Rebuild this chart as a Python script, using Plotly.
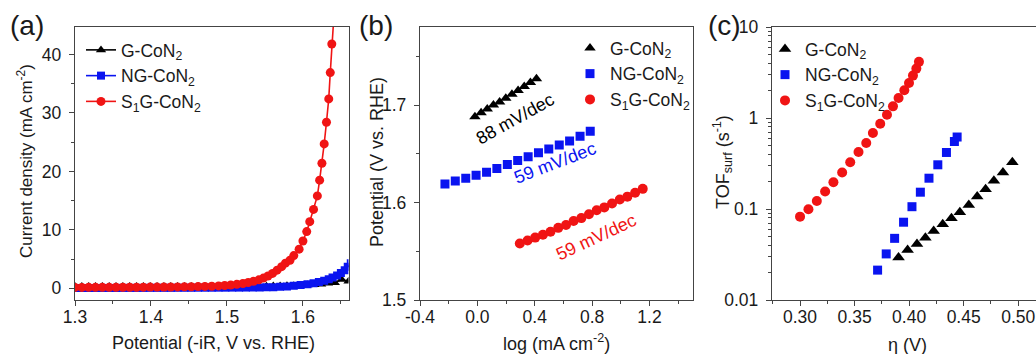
import plotly.graph_objects as go

# ---------------- Panel (a): LSV curves ----------------
a_g_v = [1.300, 1.309, 1.318, 1.327, 1.336, 1.345, 1.354, 1.363, 1.372, 1.381,
         1.390, 1.399, 1.408, 1.417, 1.426, 1.435, 1.444, 1.453, 1.462, 1.471,
         1.480, 1.489, 1.498, 1.507, 1.516, 1.525, 1.534, 1.543, 1.552, 1.561,
         1.570, 1.579, 1.588, 1.597, 1.606, 1.615, 1.624, 1.633, 1.642, 1.651, 1.660]
a_g_j = [0.30, 0.31, 0.30, 0.32, 0.31, 0.30, 0.32, 0.31, 0.30, 0.31,
         0.32, 0.30, 0.31, 0.32, 0.31, 0.30, 0.32, 0.31, 0.32, 0.33,
         0.32, 0.33, 0.34, 0.33, 0.35, 0.34, 0.36, 0.35, 0.37, 0.38,
         0.40, 0.42, 0.45, 0.50, 0.55, 0.62, 0.70, 0.85, 0.95, 1.50, 1.20]

a_ng_v = [1.300, 1.309, 1.318, 1.327, 1.336, 1.345, 1.354, 1.363, 1.372, 1.381,
          1.390, 1.399, 1.408, 1.417, 1.426, 1.435, 1.444, 1.453, 1.462, 1.471,
          1.480, 1.489, 1.498, 1.507, 1.516, 1.525, 1.534, 1.543,
          1.552, 1.561, 1.570, 1.579, 1.588, 1.597, 1.606, 1.614, 1.621, 1.628,
          1.634, 1.639, 1.645, 1.650, 1.655, 1.659, 1.663]
a_ng_j = [0.05, 0.05, 0.05, 0.06, 0.06, 0.06, 0.06, 0.07, 0.07, 0.07,
          0.07, 0.08, 0.08, 0.08, 0.08, 0.09, 0.09, 0.09, 0.10, 0.10,
          0.10, 0.11, 0.11, 0.12, 0.12, 0.13, 0.14, 0.15,
          0.17, 0.20, 0.25, 0.32, 0.42, 0.55, 0.70, 0.88, 1.08, 1.30,
          1.55, 1.85, 2.20, 2.60, 3.10, 3.70, 4.30]

a_s1g_v = [1.300, 1.309, 1.318, 1.327, 1.336, 1.345, 1.354, 1.363, 1.372, 1.381,
           1.390, 1.399, 1.408, 1.417, 1.426, 1.435, 1.444, 1.453, 1.462, 1.471,
           1.480, 1.489, 1.497, 1.505, 1.513, 1.521, 1.528, 1.535, 1.542, 1.548,
           1.554, 1.560, 1.566, 1.572, 1.577, 1.583, 1.588, 1.595, 1.600, 1.605,
           1.609, 1.614, 1.619, 1.622, 1.625, 1.628, 1.631, 1.634, 1.636, 1.638, 1.641]
a_s1g_j = [0.15, 0.15, 0.16, 0.16, 0.17, 0.17, 0.18, 0.18, 0.19, 0.19,
           0.20, 0.21, 0.21, 0.22, 0.23, 0.24, 0.25, 0.27, 0.29, 0.32,
           0.36, 0.41, 0.48, 0.57, 0.68, 0.82, 1.00, 1.20, 1.45, 1.75,
           2.10, 2.55, 3.10, 3.70, 4.30, 4.80, 5.60, 6.70, 8.10, 9.70,
           11.4, 13.5, 15.8, 18.5, 21.4, 24.7, 28.4, 32.4, 36.9, 41.8, 47.0]

# ---------------- Panel (b): Tafel plots ----------------
b_g_x = [-0.017, 0.026, 0.069, 0.112, 0.155, 0.198, 0.241, 0.284, 0.327, 0.370, 0.412]
b_g_y = [1.688, 1.692, 1.696, 1.700, 1.703, 1.707, 1.711, 1.715, 1.719, 1.723, 1.727]

b_ng_x = [-0.226, -0.154, -0.081, -0.009, 0.064, 0.136, 0.209, 0.281, 0.354,
          0.426, 0.498, 0.571, 0.643, 0.716, 0.787]
b_ng_y = [1.619, 1.622, 1.625, 1.628, 1.631, 1.635, 1.639, 1.643, 1.647,
          1.651, 1.655, 1.659, 1.663, 1.668, 1.673]

b_s1g_x = [0.296, 0.350, 0.403, 0.457, 0.510, 0.564, 0.618, 0.671, 0.725,
           0.778, 0.832, 0.885, 0.939, 0.993, 1.046, 1.100, 1.153]
b_s1g_y = [1.558, 1.561, 1.564, 1.567, 1.570, 1.574, 1.577, 1.581, 1.584,
           1.588, 1.592, 1.595, 1.599, 1.603, 1.606, 1.610, 1.614]

# ---------------- Panel (c): TOF ----------------
c_g_eta = [0.3903, 0.3986, 0.4072, 0.4149, 0.4225, 0.4308, 0.4388, 0.4465,
           0.4547, 0.4624, 0.4701, 0.4777, 0.4860, 0.4946]
c_g_tof = [0.0294, 0.0355, 0.0413, 0.0484, 0.0574, 0.0681, 0.0793, 0.0923,
           0.111, 0.137, 0.165, 0.204, 0.252, 0.327]

c_ng_eta = [0.3711, 0.3790, 0.3867, 0.3949, 0.4026, 0.4103, 0.4182, 0.4263,
            0.4342, 0.4415, 0.4440]
c_ng_tof = [0.0213, 0.0321, 0.0476, 0.0716, 0.106, 0.153, 0.218, 0.306,
            0.418, 0.552, 0.618]

c_s1g_eta = [0.3000, 0.3077, 0.3154, 0.3230, 0.3306, 0.3386, 0.3460, 0.3536,
             0.3607, 0.3668, 0.3735, 0.3797, 0.3852, 0.3903, 0.3956, 0.3999,
             0.4035, 0.4066, 0.4090]
c_s1g_tof = [0.0824, 0.0995, 0.1227, 0.1556, 0.197, 0.252, 0.327, 0.423,
             0.531, 0.684, 0.865, 1.086, 1.343, 1.660, 2.014, 2.427,
             2.924, 3.49, 4.14]

names = ["G-CoN<sub>2</sub>", "NG-CoN<sub>2</sub>", "S<sub>1</sub>G-CoN<sub>2</sub>"]
colors = ["#000000", "#0a14f0", "#f01414"]
symbols = ["triangle-up", "square", "circle"]

FONT = "Liberation Sans, Arial, sans-serif"
W, H = 1036, 354

fig = go.Figure()

# panel (a)
for xs, ys, nm, col, sym, sz in zip([a_g_v, a_ng_v, a_s1g_v], [a_g_j, a_ng_j, a_s1g_j],
                                    names, colors, symbols, [9, 8, 9]):
    fig.add_trace(go.Scatter(x=xs, y=ys, mode="lines+markers", name=nm,
                             line=dict(color=col, width=1.6),
                             marker=dict(symbol=sym, size=sz, color=col),
                             xaxis="x", yaxis="y", legend="legend"))
# panel (b)
for xs, ys, nm, col, sym, sz in zip([b_g_x, b_ng_x, b_s1g_x], [b_g_y, b_ng_y, b_s1g_y],
                                    names, colors, symbols, [10, 9, 10]):
    fig.add_trace(go.Scatter(x=xs, y=ys, mode="markers", name=nm,
                             marker=dict(symbol=sym, size=sz, color=col),
                             xaxis="x2", yaxis="y2", legend="legend2"))
# panel (c)
for xs, ys, nm, col, sym, sz in zip([c_g_eta, c_ng_eta, c_s1g_eta], [c_g_tof, c_ng_tof, c_s1g_tof],
                                    names, colors, symbols, [11, 9, 10]):
    fig.add_trace(go.Scatter(x=xs, y=ys, mode="markers", name=nm,
                             marker=dict(symbol=sym, size=sz, color=col),
                             xaxis="x3", yaxis="y3", legend="legend3"))

LINE = "#444444"
TXT = "#1a1a1a"


def ax(**kw):
    d = dict(showline=True, linecolor=LINE, linewidth=1.4, mirror=True,
             ticks="outside", ticklen=5, tickwidth=1.2, tickcolor=LINE,
             showgrid=False, zeroline=False, automargin=False, ticklabelstandoff=4,
             tickfont=dict(family=FONT, size=17.5, color=TXT))
    d.update(kw)
    return d


def xax(**kw):
    kw.setdefault("ticklabelstandoff", -4)
    return ax(**kw)


ybot = (H - 300) / H
ytop = (H - 27) / H

layout = dict(
    width=W, height=H, margin=dict(l=0, r=0, t=0, b=0),
    paper_bgcolor="white", plot_bgcolor="white",
    font=dict(family=FONT, color=TXT),
    xaxis=xax(domain=[75 / W, 348.5 / W], range=[1.3, 1.66], tick0=1.3, dtick=0.1,
              tickformat=".1f", anchor="y",
              minor=dict(ticks="outside", ticklen=3, dtick=0.05, tick0=1.3, tickcolor=LINE)),
    yaxis=ax(domain=[ybot, ytop], range=[-2, 44.7], tick0=0, dtick=10, anchor="x",
             minor=dict(ticks="outside", ticklen=3, dtick=5, tick0=0, tickcolor=LINE)),
    xaxis2=xax(domain=[420 / W, 692.5 / W], range=[-0.4, 1.5], anchor="y2",
               tickmode="array", tickvals=[-0.4, 0.0, 0.4, 0.8, 1.2],
               ticktext=["-0.4", "0.0", "0.4", "0.8", "1.2"],
               minor=dict(ticks="outside", ticklen=3, dtick=0.2, tick0=-0.4, tickcolor=LINE)),
    yaxis2=ax(domain=[ybot, ytop], range=[1.5, 1.78], tick0=1.5, dtick=0.1,
              tickformat=".1f", anchor="x2",
              minor=dict(ticks="outside", ticklen=3, dtick=0.05, tick0=1.5, tickcolor=LINE)),
    xaxis3=xax(domain=[772 / W, 1.0], range=[0.2743, 0.5163], tick0=0.3, dtick=0.05,
               tickformat=".2f", anchor="y3",
               minor=dict(ticks="outside", ticklen=3, dtick=0.025, tick0=0.3, tickcolor=LINE)),
    yaxis3=ax(domain=[ybot, ytop], type="log", range=[-2, 1], anchor="x3", mirror=False,
              tickmode="array", tickvals=[0.01, 0.1, 1, 10], ticktext=["0.01", "0.1", "1", "10"],
              minor=dict(ticks="outside", ticklen=3, tickcolor=LINE, tickmode="array",
                         tickvals=[a * b for b in (0.01, 0.1, 1) for a in range(2, 10)])),
    legend=dict(x=81 / W, y=(H - 32) / H, xanchor="left", yanchor="top",
                bgcolor="rgba(0,0,0,0)", font=dict(family=FONT, size=17.5, color=TXT),
                tracegroupgap=0, itemclick=False),
    legend2=dict(x=570 / W, y=(H - 30) / H, xanchor="left", yanchor="top",
                 bgcolor="rgba(0,0,0,0)", font=dict(family=FONT, size=17.5, color=TXT),
                 tracegroupgap=0),
    legend3=dict(x=765 / W, y=(H - 31) / H, xanchor="left", yanchor="top",
                 bgcolor="rgba(0,0,0,0)", font=dict(family=FONT, size=17.5, color=TXT),
                 tracegroupgap=0),
    showlegend=True,
)
fig.update_layout(**layout)

annos = []
# panel letters
for txt, x0 in [("(a)", 8), ("(b)", 357), ("(c)", 706)]:
    annos.append(dict(text=txt, x=x0 / W, y=(H - 26) / H, xref="paper", yref="paper",
                      xanchor="left", yanchor="middle", showarrow=False,
                      font=dict(family=FONT, size=28, color=TXT)))
# axis titles (placed in paper pixels)
titles = [
    ("Potential (-iR, V vs. RHE)", 213, 343, 0, 18),
    ("Current density (mA cm<sup>-2</sup>)", 25, 161, -90, 17),
    ("log (mA cm<sup>-2</sup>)", 556, 342, 0, 18),
    ("Potential (V vs. RHE)", 377, 162, -90, 18),
    ("η (V)", 907, 345, 0, 18),
    ("TOF<sub>surf</sub> (s<sup>-1</sup>)", 722, 162, -90, 18),
]
for txt, px, py, ang, fs in titles:
    annos.append(dict(text=txt, x=px / W, y=(H - py) / H, xref="paper", yref="paper",
                      xanchor="center", yanchor="middle", showarrow=False, textangle=ang,
                      font=dict(family=FONT, size=fs, color=TXT)))
# slope labels
annos.append(dict(text="88 mV/dec", x=0.26, y=1.686, xref="x2", yref="y2", showarrow=False,
                  textangle=-29, font=dict(family=FONT, size=18, color="#000000")))
annos.append(dict(text="59 mV/dec", x=0.54, y=1.6405, xref="x2", yref="y2", showarrow=False,
                  textangle=-21, font=dict(family=FONT, size=18, color=colors[1])))
annos.append(dict(text="59 mV/dec", x=0.83, y=1.5650, xref="x2", yref="y2", showarrow=False,
                  textangle=-25, font=dict(family=FONT, size=18, color=colors[2])))
fig.update_layout(annotations=annos)

fig.write_html("out.html")
